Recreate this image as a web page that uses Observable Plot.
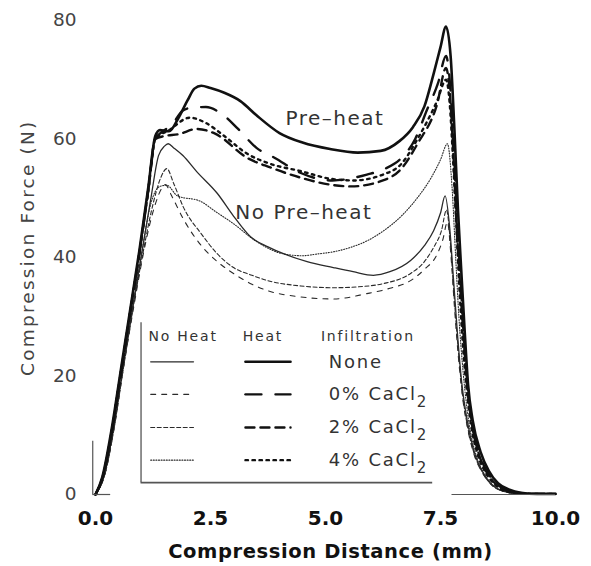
<!DOCTYPE html>
<html>
<head>
<meta charset="utf-8">
<script src="https://cdn.jsdelivr.net/npm/d3@7"></script>
<script src="https://cdn.jsdelivr.net/npm/@observablehq/plot@0.6"></script>
<style>
  html, body { margin: 0; padding: 0; background: #fff; }
</style>
</head>
<body>
<div id="chart"></div>
<script>
// ---- Data (compression distance mm, compression force N) ----
const xTicks = [0, 2.5, 5, 7.5, 10];
const yTicks = [0, 20, 40, 60, 80];

const heatNone = [[0,0],[0.15,3],[0.35,11],[0.55,21],[0.75,31],[0.95,41],[1.15,52],[1.3,60.5],[1.4,61.5],[1.6,61.3],[1.8,63.5],[2.0,66.5],[2.15,68.5],[2.3,69],[2.5,68.6],[2.8,67.8],[3.15,66.4],[3.5,64],[4.0,61],[4.5,59.4],[5.1,58.3],[5.7,57.7],[6.2,58],[6.6,59.6],[6.9,62],[7.15,65.5],[7.35,71],[7.5,75.5],[7.62,79],[7.72,74],[7.8,62],[7.88,48],[7.95,38],[8.03,27],[8.1,18.5],[8.2,12.5],[8.37,7.2],[8.55,4],[8.75,1.9],[9.0,0.8],[9.25,0.3],[9.6,0.1],[10,0.1]];
const heat0 = [[0,0],[0.15,2.8],[0.35,10.5],[0.55,20.5],[0.75,30.5],[0.95,40.5],[1.15,51.5],[1.3,60],[1.45,61.2],[1.65,62.3],[1.9,64.8],[2.1,65.3],[2.4,65.4],[2.75,64.2],[3.1,61.7],[3.5,58.5],[3.9,56.8],[4.45,54.3],[5.15,53],[5.9,54],[6.3,55],[6.65,56.8],[6.95,60],[7.2,64.8],[7.45,69.5],[7.62,74],[7.7,70],[7.78,60],[7.85,48],[7.93,37],[8.0,28],[8.08,19],[8.18,12.5],[8.33,7.2],[8.52,3.8],[8.72,1.8],[8.95,0.7],[9.2,0.25],[9.6,0.1],[10,0.1]];
const heat2 = [[0,0],[0.15,2.8],[0.35,10.5],[0.55,20.5],[0.75,30.5],[0.95,40.5],[1.15,51.5],[1.3,60],[1.5,60.5],[1.8,60.8],[2.2,61.7],[2.6,60.9],[3.3,56.8],[3.8,55.2],[4.45,53.5],[5.1,52.3],[5.55,52],[6.25,53],[6.65,55],[7.0,59.2],[7.43,66],[7.62,72],[7.7,68],[7.77,59],[7.84,47],[7.92,36],[8.0,27],[8.07,19],[8.17,12.5],[8.32,7.2],[8.5,3.8],[8.7,1.8],[8.93,0.7],[9.2,0.25],[9.6,0.1],[10,0.1]];
const heat4 = [[0,0],[0.15,2.8],[0.35,10.5],[0.55,20.5],[0.75,30.5],[0.95,40.5],[1.15,51.5],[1.3,60],[1.6,61.5],[2.05,63.6],[2.4,62.7],[2.8,60.5],[3.3,57.5],[3.8,55.8],[4.45,54.6],[5.1,53.3],[5.6,53],[6.25,54],[6.65,55.8],[7.0,60],[7.43,66.5],[7.62,70],[7.7,66],[7.77,57],[7.84,46],[7.91,35],[7.98,26],[8.06,18.5],[8.16,12],[8.3,7],[8.48,3.7],[8.68,1.7],[8.9,0.6],[9.2,0.2],[9.6,0.1],[10,0.1]];

const noHeatNone = [[0,0],[0.2,3.5],[0.4,11.5],[0.6,21.5],[0.83,32.5],[1.0,40.5],[1.2,49.8],[1.37,57.2],[1.5,58.8],[1.58,59.2],[1.7,58.5],[1.9,57.2],[2.2,54.5],[2.65,50.8],[3.0,47],[3.37,43.5],[3.75,41.8],[4.1,40.6],[4.6,39.3],[5.17,38.3],[5.6,37.6],[6.04,37],[6.4,37.6],[6.85,39.5],[7.15,42],[7.35,44.5],[7.5,47.5],[7.6,50.4],[7.7,45],[7.78,36.6],[7.87,27],[7.96,19],[8.08,12.5],[8.22,7.5],[8.4,4],[8.6,1.8],[8.85,0.6],[9.2,0.15],[10,0.1]];
const noHeat0 = [[0,0],[0.2,3.3],[0.4,11],[0.6,21],[0.85,32.5],[1.05,41],[1.3,49],[1.45,51.8],[1.52,52.3],[1.65,50.5],[1.91,46.5],[2.3,42],[2.65,39.3],[3.0,37.3],[3.4,35.5],[3.74,34.4],[4.4,33.4],[5.17,33],[5.9,33.9],[6.4,34.8],[6.85,36.1],[7.15,38],[7.43,40.6],[7.55,43],[7.65,46],[7.73,40],[7.8,32],[7.88,24],[7.97,17],[8.08,11.5],[8.22,7],[8.4,3.8],[8.6,1.7],[8.85,0.6],[9.2,0.15],[10,0.1]];
const noHeat2 = [[0,0],[0.2,3.3],[0.4,11],[0.6,21],[0.85,33],[1.05,41.5],[1.25,49],[1.42,53.5],[1.55,55],[1.7,52.5],[1.91,48.5],[2.3,44],[2.65,40.6],[3.0,38.3],[3.4,37],[3.74,36.1],[4.46,35.2],[5.17,34.9],[5.8,35.1],[6.26,35.6],[6.85,37.3],[7.15,39.3],[7.35,41.7],[7.52,44.5],[7.63,48],[7.72,42],[7.8,33],[7.88,25],[7.97,17.5],[8.08,11.8],[8.22,7.2],[8.4,3.9],[8.6,1.7],[8.85,0.6],[9.2,0.15],[10,0.1]];
const noHeat4 = [[0,0],[0.2,3.4],[0.4,11.2],[0.6,21.2],[0.83,32.5],[1.0,40.5],[1.2,49],[1.4,52],[1.55,52.2],[1.78,50.4],[2.28,49.5],[2.6,47.8],[3.0,45.7],[3.5,42.7],[4.09,40.6],[4.5,40.3],[4.83,40.6],[5.2,41],[5.54,41.7],[5.9,42.8],[6.26,44.5],[6.65,47],[7.0,50.1],[7.3,53.5],[7.5,56.5],[7.65,59.2],[7.75,52],[7.83,40],[7.9,30],[8.0,20],[8.12,12],[8.28,6.5],[8.45,3.5],[8.65,1.5],[8.9,0.5],[9.3,0.1],[10,0.1]];

const infiltration = ["None", "0% CaCl₂", "2% CaCl₂", "4% CaCl₂"];
const groupLabels = ["Pre–heat", "No Pre–heat"];
const legendHeaders = ["No Heat", "Heat", "Infiltration"];
const axisLabels = ["Compression Distance (mm)", "Compression Force (N)"];

// ---- Styles ----
const heatSeries = [heatNone, heat0, heat2, heat4];
const noHeatSeries = [noHeatNone, noHeat0, noHeat2, noHeat4];
const heatDash = [null, "16,14", "9,6", "2.5,4.5"];
const noHeatDash = [null, "5,6", "4,2.5", "1,1.6"];
const toRows = arr => arr.map(([x, y]) => ({x, y}));

const marks = [];
noHeatSeries.forEach((s, i) => {
  marks.push(Plot.line(toRows(s), {x: "x", y: "y", curve: "monotone-x", stroke: "#2a2a2a",
    strokeWidth: i === 0 ? 1.3 : 1.1, strokeDasharray: noHeatDash[i]}));
});
heatSeries.forEach((s, i) => {
  marks.push(Plot.line(toRows(s), {x: "x", y: "y", curve: "monotone-x", stroke: "#111",
    strokeWidth: i === 0 ? 2.6 : 2.4, strokeDasharray: heatDash[i]}));
});

// scan artefact baseline fragments
marks.push(Plot.ruleY([0], {x1: 7.75, x2: 10, stroke: "#555", strokeWidth: 1.2}));
marks.push(Plot.ruleY([0], {x1: -0.06, x2: 0.33, stroke: "#555", strokeWidth: 1.2}));
marks.push(Plot.ruleX([-0.06], {y1: 0, y2: 9, stroke: "#555", strokeWidth: 1.2}));

// legend box (annotation)
const L = {left: 0.99, right: 7.33, top: 29, bottom: 2.0,
  header: 26.6, rows: [22.4, 16.9, 11.3, 5.8], nh: [1.2, 2.13], h: [3.26, 4.24],
  hx: [1.15, 3.2, 4.9], tx: 5.07};
marks.push(Plot.rect([0], {x1: L.left, x2: L.right + 0.05, y1: L.bottom, y2: L.top, fill: "white"}));
marks.push(Plot.ruleX([L.left], {y1: L.bottom, y2: L.top, stroke: "#555", strokeWidth: 1.3}));
marks.push(Plot.ruleY([L.bottom], {x1: L.left, x2: L.right, stroke: "#555", strokeWidth: 1.6}));
marks.push(Plot.text(legendHeaders, {x: (d, i) => L.hx[i], y: L.header, text: d => d, textAnchor: "start",
  fontSize: 14, fill: "#333", className: "ls2"}));
infiltration.forEach((lab, i) => {
  marks.push(Plot.line([{x: L.nh[0], y: L.rows[i]}, {x: L.nh[1], y: L.rows[i]}],
    {x: "x", y: "y", stroke: "#2a2a2a", strokeWidth: i === 0 ? 1.3 : 1.1, strokeDasharray: noHeatDash[i]}));
  marks.push(Plot.line([{x: L.h[0], y: L.rows[i]}, {x: L.h[1], y: L.rows[i]}],
    {x: "x", y: "y", stroke: "#111", strokeWidth: i === 0 ? 2.6 : 2.4, strokeDasharray: heatDash[i]}));
});
marks.push(Plot.text(infiltration, {x: L.tx, y: (d, i) => L.rows[i], text: d => d, textAnchor: "start",
  fontSize: 18, fill: "#333", className: "lsub"}));

// group annotations
marks.push(Plot.text([groupLabels[0]], {x: 4.13, y: 63.4, text: d => d, textAnchor: "start", fontSize: 20, fill: "#333", className: "ls15"}));
marks.push(Plot.text([groupLabels[1]], {x: 3.04, y: 47.5, text: d => d, textAnchor: "start", fontSize: 20, fill: "#333", className: "ls15"}));

// axes
marks.push(Plot.axisX({ticks: xTicks, tickSize: 0, tickPadding: 16, tickFormat: d => d.toFixed(1),
  fontSize: 20, fontWeight: "bold", fill: "#111", label: null}));
marks.push(Plot.axisY({ticks: yTicks, tickSize: 0, tickPadding: 19, fontSize: 18.5, fill: "#444", label: null}));
marks.push(Plot.text([axisLabels[0]], {x: 5, y: 0, text: d => d, dy: 57, dx: 5,
  fontSize: 19.5, fontWeight: "bold", fill: "#111", className: "lsx"}));
marks.push(Plot.text([axisLabels[1]], {x: 0, y: 41.65, text: d => d, rotate: -90, dx: -67,
  fontSize: 18.5, fill: "#444", className: "lsy"}));

const chart = Plot.plot({
  width: 591, height: 566,
  marginLeft: 95, marginRight: 36, marginTop: 20, marginBottom: 72,
  x: {domain: [0, 10]},
  y: {domain: [0, 80]},
  style: {fontFamily: "DejaVu Sans", background: "white", overflow: "visible"},
  marks
});
document.getElementById("chart").appendChild(chart);
const sel = d3.select(chart);
sel.selectAll(".ls2 text").attr("letter-spacing", 1.8);
sel.selectAll(".ls15 text").attr("letter-spacing", 1.5);
sel.selectAll(".lsx text").attr("letter-spacing", 0.6);
sel.selectAll(".lsy text").attr("letter-spacing", 2.2);
sel.selectAll(".lsub text").each(function() {
  const t = d3.select(this);
  const s = t.text();
  t.attr("letter-spacing", 1.8);
  if (s.includes("₂")) {
    t.text(s.replace("₂", ""));
    t.append("tspan").attr("dy", 7).attr("font-size", 15).text("2");
  }
});
</script>
</body>
</html>
